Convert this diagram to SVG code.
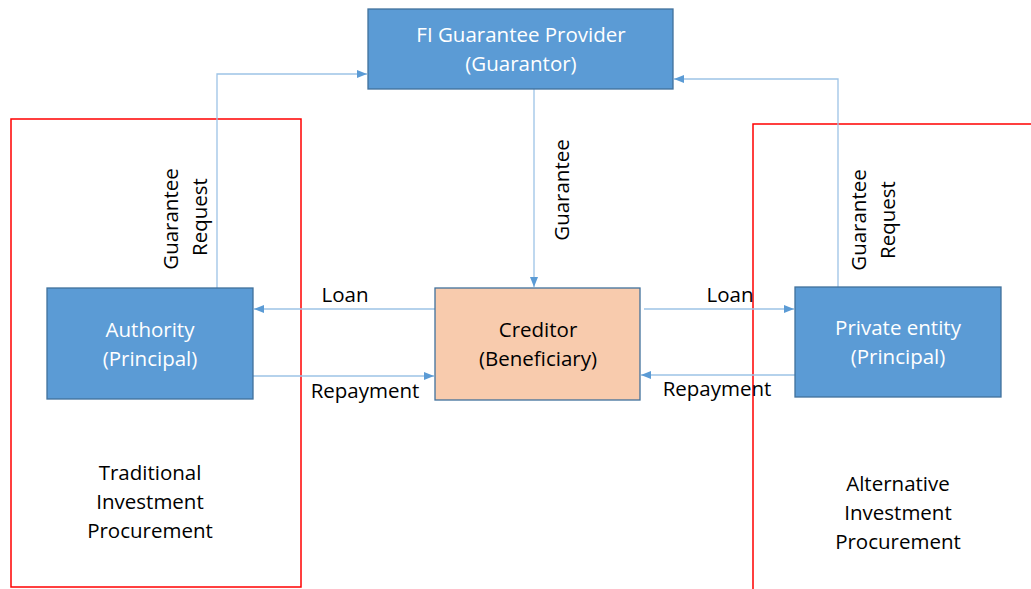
<svg xmlns="http://www.w3.org/2000/svg" width="1031" height="589" viewBox="0 0 1031 589">
  <defs>
    <style>
      .node { fill: #5B9BD5; stroke: #41719C; stroke-width: 1.3; }
      .peach { fill: #F8CBAD; stroke: #41719C; stroke-width: 1.3; }
      .ntext { font-family: "Open Sans", "Liberation Sans", sans-serif; font-size: 20.5px; fill: #FFFFFF; text-anchor: middle; }
      .label { font-family: "Open Sans", "Liberation Sans", sans-serif; font-size: 20.5px; fill: #000000; text-anchor: middle; }
      .conn { fill: none; stroke: #9DC3E6; stroke-width: 1.3; marker-end: url(#arrow); }
      .frame { fill: none; stroke: #FF0000; stroke-width: 1.5; }
    </style>
    <marker id="arrow" viewBox="0 0 10 10" refX="10" refY="5" markerWidth="10" markerHeight="10" markerUnits="userSpaceOnUse" orient="auto">
      <path d="M0,1 L10,5 L0,9 Z" fill="#5B9BD5"/>
    </marker>
  </defs>

  <!-- procurement frames -->
  <g id="frame-traditional">
    <rect class="frame" x="11" y="119" width="290" height="468"/>
    <text class="label" x="150" y="480">Traditional</text>
    <text class="label" x="150" y="509">Investment</text>
    <text class="label" x="150" y="538">Procurement</text>
  </g>
  <g id="frame-alternative">
    <path class="frame" d="M753,589 L753,124 L1031,124"/>
    <text class="label" x="898" y="491">Alternative</text>
    <text class="label" x="898" y="520">Investment</text>
    <text class="label" x="898" y="549">Procurement</text>
  </g>

  <!-- connectors -->
  <g id="connectors">
    <path class="conn" d="M217,288 L217,74 L367,74"/>
    <path class="conn" d="M838,287 L838,79 L674,79"/>
    <path class="conn" d="M534,89 L534,287"/>
    <path class="conn" d="M435,309 L254,309"/>
    <path class="conn" d="M253,376 L434,376"/>
    <path class="conn" d="M644,309 L794,309"/>
    <path class="conn" d="M795,375 L641,375"/>
    <text class="label" transform="translate(178,219) rotate(-90)">Guarantee</text>
    <text class="label" transform="translate(207,217) rotate(-90)">Request</text>
    <text class="label" transform="translate(866,220) rotate(-90)">Guarantee</text>
    <text class="label" transform="translate(895,220) rotate(-90)">Request</text>
    <text class="label" transform="translate(569,190) rotate(-90)">Guarantee</text>
    <text class="label" x="345" y="302">Loan</text>
    <text class="label" x="730" y="302">Loan</text>
    <text class="label" x="365" y="398">Repayment</text>
    <text class="label" x="717" y="396">Repayment</text>
  </g>

  <!-- nodes -->
  <g id="guarantor">
    <rect class="node" x="368" y="9" width="305" height="80"/>
    <text class="ntext" x="521" y="42">FI Guarantee Provider</text>
    <text class="ntext" x="521" y="71">(Guarantor)</text>
  </g>
  <g id="authority">
    <rect class="node" x="47" y="288" width="206" height="111"/>
    <text class="ntext" x="150" y="337">Authority</text>
    <text class="ntext" x="150" y="366">(Principal)</text>
  </g>
  <g id="creditor">
    <rect class="peach" x="435" y="288" width="205" height="112"/>
    <text class="label" x="538" y="337">Creditor</text>
    <text class="label" x="538" y="366">(Beneficiary)</text>
  </g>
  <g id="private-entity">
    <rect class="node" x="795" y="287" width="206" height="110"/>
    <text class="ntext" x="898" y="335">Private entity</text>
    <text class="ntext" x="898" y="364">(Principal)</text>
  </g>
</svg>
